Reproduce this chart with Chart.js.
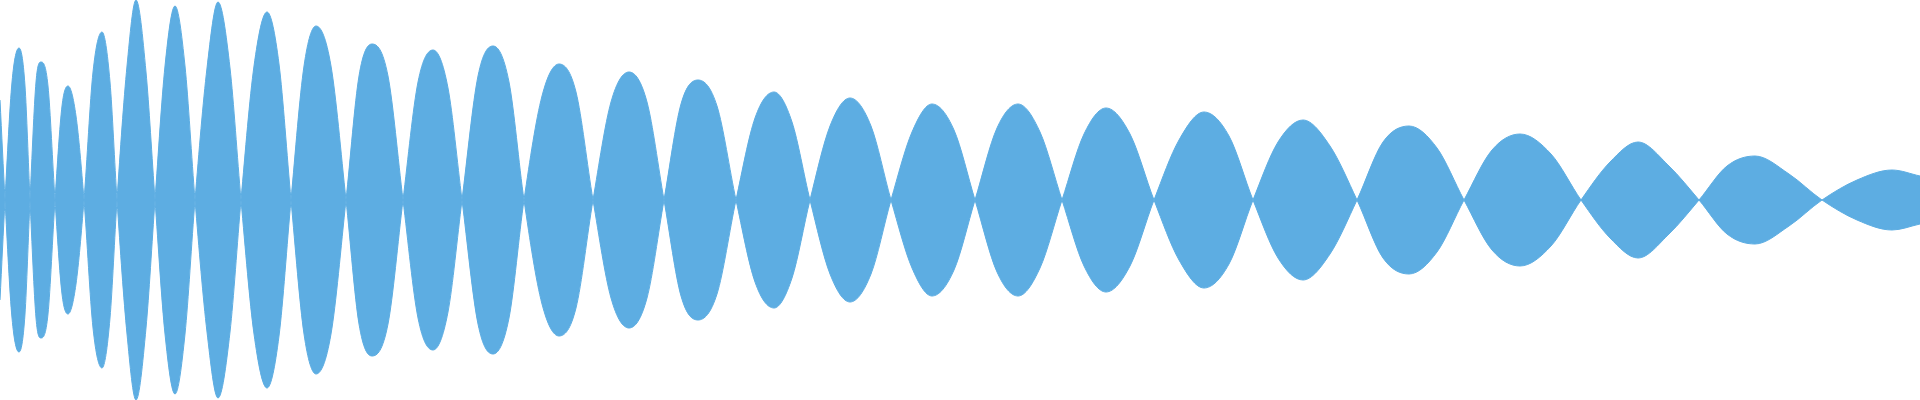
<!DOCTYPE html>
<html>
<head>
<meta charset="utf-8">
<title>Waveform</title>
<script src="https://cdn.jsdelivr.net/npm/chart.js@4.4.1/dist/chart.umd.min.js"></script>
<style>
    html, body { margin: 0; padding: 0; background: #ffffff; }
    #wrap { width: 1920px; height: 400px; position: relative; }
</style>
</head>
<body>
<div id="wrap"><canvas id="wave"></canvas></div>
<script>
// Zero crossings of the signal (time units)
const crossings = [5, 30, 55, 84, 117, 155, 195, 241, 291, 346, 403, 462, 524, 593,
    664, 736, 810, 891, 975, 1062, 1154, 1253, 1357, 1464, 1581, 1699, 1822];

// Each lobe: halfway up the rising side, the peak, halfway down the falling side
const riseTimes = [12, 36, 62, 93, 127, 165, 207, 254, 304, 359, 418, 478, 542, 611,
    681, 755, 830, 912, 997, 1084, 1179, 1278, 1383, 1492, 1610, 1727, 1857];
const riseLevels = [0.59, 0.59, 0.47, 0.64, 0.67, 0.67, 0.66, 0.67, 0.67, 0.62, 0.59, 0.62, 0.52, 0.49,
    0.48, 0.41, 0.37, 0.34, 0.36, 0.33, 0.30, 0.29, 0.29, 0.25, 0.19, 0.17, 0.10];

const peakTimes = [19, 41, 68, 102, 136, 175, 218, 267, 316, 372, 433, 493, 559, 629,
    698, 774, 850, 932, 1018, 1106, 1204, 1303, 1409, 1520, 1638, 1755, 1892];
const peakLevels = [0.76, 0.69, 0.57, 0.84, 1.0, 0.97, 0.99, 0.94, 0.87, 0.78, 0.75, 0.77, 0.68, 0.64,
    0.60, 0.54, 0.51, 0.48, 0.48, 0.46, 0.44, 0.40, 0.37, 0.33, 0.29, 0.22, 0.15];

const fallTimes = [25, 48, 76, 110, 146, 185, 230, 279, 331, 388, 448, 509, 576, 647,
    717, 792, 871, 954, 1040, 1130, 1229, 1330, 1437, 1551, 1669, 1789];
const fallLevels = [0.57, 0.57, 0.42, 0.59, 0.64, 0.67, 0.66, 0.68, 0.67, 0.62, 0.56, 0.59, 0.54, 0.49,
    0.47, 0.39, 0.37, 0.35, 0.34, 0.33, 0.32, 0.27, 0.26, 0.23, 0.17, 0.13];

// Edges of the clip
const startTime = 0, startLevel = 0.5;
const endTime = 1920, endLevel = 0.12;

// Signed signal: lobes alternate above and below zero
const signal = [{ x: startTime, y: -startLevel }];
crossings.forEach((t, i) => {
    const sign = i % 2 === 0 ? 1 : -1;
    signal.push({ x: t, y: 0 });
    signal.push({ x: riseTimes[i], y: sign * riseLevels[i] });
    signal.push({ x: peakTimes[i], y: sign * peakLevels[i] });
    if (i < fallTimes.length) signal.push({ x: fallTimes[i], y: sign * fallLevels[i] });
});
signal.push({ x: endTime, y: (crossings.length % 2 === 1 ? 1 : -1) * endLevel });
const mirror = signal.map(p => ({ x: p.x, y: -p.y }));

const waveColor = '#5dade2';

new Chart(document.getElementById('wave').getContext('2d'), {
    type: 'line',
    data: {
        datasets: [
            { data: signal, fill: 'origin', backgroundColor: waveColor, borderColor: waveColor,
              borderWidth: 1, pointRadius: 0, cubicInterpolationMode: 'monotone' },
            { data: mirror, fill: 'origin', backgroundColor: waveColor, borderColor: waveColor,
              borderWidth: 1, pointRadius: 0, cubicInterpolationMode: 'monotone' }
        ]
    },
    options: {
        animation: false,
        responsive: true,
        maintainAspectRatio: false,
        layout: { padding: 0 },
        plugins: { legend: { display: false }, tooltip: { enabled: false } },
        scales: {
            x: { type: 'linear', display: false, min: startTime, max: endTime },
            y: { display: false, min: -1, max: 1 }
        }
    }
});
</script>
</body>
</html>
